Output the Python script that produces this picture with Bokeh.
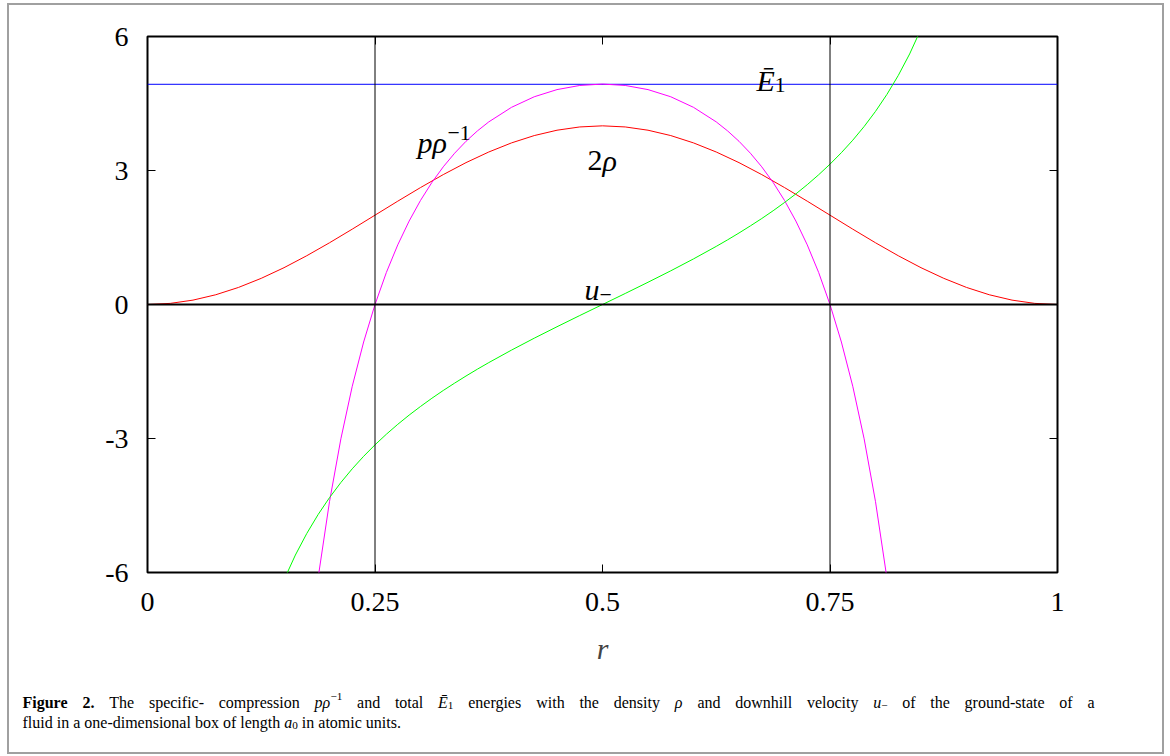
import re
from bokeh.plotting import figure
from bokeh.models import Span, Label, LinearAxis, FixedTicker, Range1d
from bokeh.layouts import column
from bokeh.embed import file_html
from bokeh.resources import INLINE

# ---------------- data ----------------
r_rho = [0.0, 0.025, 0.05, 0.075, 0.1, 0.125, 0.15, 0.175, 0.2, 0.225, 0.25,
         0.275, 0.3, 0.325, 0.35, 0.375, 0.4, 0.425, 0.45, 0.475, 0.5,
         0.525, 0.55, 0.575, 0.6, 0.625, 0.65, 0.675, 0.7, 0.725, 0.75,
         0.775, 0.8, 0.825, 0.85, 0.875, 0.9, 0.925, 0.95, 0.975, 1.0]
two_rho = [0.0, 0.025, 0.098, 0.218, 0.382, 0.586, 0.824, 1.092, 1.382, 1.687, 2.0,
           2.313, 2.618, 2.908, 3.176, 3.414, 3.618, 3.782, 3.902, 3.975, 4.0,
           3.975, 3.902, 3.782, 3.618, 3.414, 3.176, 2.908, 2.618, 2.313, 2.0,
           1.687, 1.382, 1.092, 0.824, 0.586, 0.382, 0.218, 0.098, 0.025, 0.0]

r_mid = [0.15, 0.1625, 0.175, 0.1875, 0.2, 0.2125, 0.225, 0.2375, 0.25, 0.2625,
         0.275, 0.2875, 0.3, 0.3125, 0.325, 0.3375, 0.35, 0.3625, 0.375,
         0.4, 0.425, 0.45, 0.475, 0.5, 0.525, 0.55, 0.575, 0.6,
         0.625, 0.6375, 0.65, 0.6625, 0.675, 0.6875, 0.7, 0.7125, 0.725,
         0.7375, 0.75, 0.7625, 0.775, 0.7875, 0.8, 0.8125, 0.825, 0.8375, 0.85]
u_minus = [-6.166, -5.609, -5.127, -4.702, -4.324, -3.985, -3.678, -3.399, -3.142, -2.904,
           -2.683, -2.476, -2.283, -2.099, -1.925, -1.760, -1.601, -1.448, -1.301,
           -1.021, -0.754, -0.498, -0.247, 0.0, 0.247, 0.498, 0.754, 1.021,
           1.301, 1.448, 1.601, 1.760, 1.925, 2.099, 2.283, 2.476, 2.683,
           2.904, 3.142, 3.399, 3.678, 3.985, 4.324, 4.702, 5.127, 5.609, 6.166]
p_over_rho = [-14.07, -10.80, -8.207, -6.119, -4.414, -3.007, -1.830, -0.840, 0.0, 0.718,
              1.335, 1.868, 2.330, 2.732, 3.082, 3.387, 3.654, 3.886, 4.088,
              4.414, 4.651, 4.811, 4.904, 4.935, 4.904, 4.811, 4.651, 4.414,
              4.088, 3.886, 3.654, 3.387, 3.082, 2.732, 2.330, 1.868, 1.335,
              0.718, 0.0, -0.840, -1.830, -3.007, -4.414, -6.119, -8.207, -10.80, -14.07]

r_E = [0.0, 1.0]
E_bar = [4.93, 4.93]

walls = [0.25, 0.75]
zero_level = [0.0]

x_ticks = [0, 0.25, 0.5, 0.75, 1]
x_tick_labels = ["0", "0.25", "0.5", "0.75", "1"]
y_ticks = [-6, -3, 0, 3, 6]
y_tick_labels = ["-6", "-3", "0", "3", "6"]

# ---------------- layout (page coordinates of the reference) ----------------
OX, OY = 9, 5                         # top-left of the bordered box on the page
W, H = 1153, 747
FRAME_L, FRAME_R, FRAME_T, FRAME_B = 147, 1057, 36, 572
SPLIT = 680                           # page y where the caption strip starts
FL = FRAME_L - OX
FT = FRAME_T - OY
FR = OX + W - FRAME_R
H1 = SPLIT - OY
H2 = H - H1
FB = H1 - FT - (FRAME_B - FRAME_T)
FW, FH = FRAME_R - FRAME_L, FRAME_B - FRAME_T
XMIN, XMAX, YMIN, YMAX = 0.0, 1.0, -6.0, 6.0

SERIF = "Liberation Serif"

p = figure(width=W, height=H1, x_range=(XMIN, XMAX), y_range=(YMIN, YMAX),
           output_backend="svg", toolbar_location=None,
           min_border_left=FL, min_border_right=FR,
           min_border_top=FT, min_border_bottom=FB,
           background_fill_color="white", border_fill_color="white")
p.frame_align = False
p.xgrid.visible = False
p.ygrid.visible = False
p.outline_line_color = "black"
p.outline_line_width = 2

def style_axis(ax, labels=True):
    ax.axis_line_color = None
    ax.major_tick_in = 8
    ax.major_tick_out = 0
    ax.major_tick_line_color = "black"
    ax.major_tick_line_width = 1
    ax.minor_tick_line_color = None
    ax.major_label_text_font = SERIF
    ax.major_label_text_font_size = "28px"
    ax.major_label_text_color = "black" if labels else None

xa = p.xaxis[0]
xa.ticker = FixedTicker(ticks=x_ticks)
xa.major_label_overrides = dict(zip(x_ticks, x_tick_labels))
style_axis(xa)
xa.major_label_standoff = 20
xa.axis_label = "r"
xa.axis_label_text_font = SERIF
xa.axis_label_text_font_style = "italic"
xa.axis_label_text_font_size = "30px"
xa.axis_label_standoff = 18

ya = p.yaxis[0]
ya.ticker = FixedTicker(ticks=y_ticks)
ya.major_label_overrides = dict(zip(y_ticks, y_tick_labels))
style_axis(ya)
ya.major_label_standoff = 19

top_ax = LinearAxis(ticker=FixedTicker(ticks=x_ticks))
style_axis(top_ax, labels=False)
top_ax.major_label_standoff = 0
p.add_layout(top_ax, "above")
right_ax = LinearAxis(ticker=FixedTicker(ticks=y_ticks))
style_axis(right_ax, labels=False)
right_ax.major_label_standoff = 0
p.add_layout(right_ax, "right")

for w in walls:
    p.add_layout(Span(location=w, dimension="height", line_color="black", line_width=1))
for z in zero_level:
    p.add_layout(Span(location=z, dimension="width", line_color="black", line_width=2))

p.line(r_E, E_bar, line_color="#0000ff", line_width=1)
p.line(r_rho, two_rho, line_color="#ff0000", line_width=1)
p.line(r_mid, p_over_rho, line_color="#ff00ff", line_width=1)
p.line(r_mid, u_minus, line_color="#00ff00", line_width=1)

# caption strip (frame covers the whole strip, y measured downward in px)
cap = figure(width=W, height=H2, x_range=Range1d(0, W), y_range=Range1d(H2, 0),
             output_backend="svg", toolbar_location=None,
             x_axis_type=None, y_axis_type=None,
             min_border_left=0, min_border_right=0, min_border_top=0, min_border_bottom=0,
             background_fill_color="white", border_fill_color="white")
cap.frame_align = False
cap.xgrid.visible = False
cap.ygrid.visible = False
cap.outline_line_color = None

# ---------------- text helpers ----------------
REG = {' ': 250, 'a': 444, 'b': 500, 'c': 444, 'd': 500, 'e': 444, 'f': 333, 'g': 500,
       'h': 500, 'i': 278, 'j': 278, 'k': 500, 'l': 278, 'm': 778, 'n': 500, 'o': 500,
       'p': 500, 'q': 500, 'r': 333, 's': 389, 't': 278, 'u': 500, 'v': 500, 'w': 722,
       'x': 500, 'y': 500, 'z': 444, '-': 333, '.': 250, ',': 250, 'T': 611, 'F': 556,
       '\u2212': 564}
BOLD = {'F': 611, 'i': 278, 'g': 500, 'u': 556, 'r': 444, 'e': 444, ' ': 250, '.': 250}
ITAL = {'p': 500, '\u03c1': 500, 'u': 500, 'a': 500, 'E': 611, '\u0112': 611}
TABLES = {"normal": REG, "bold": BOLD, "italic": ITAL}

def tw(text, style, size):
    tbl = TABLES[style]
    return sum(tbl.get(ch, REG.get(ch, 500)) for ch in text) * size / 1000.0

def plot_xy(X, Y):
    return (XMIN + (X - FRAME_L) / FW * (XMAX - XMIN),
            YMAX - (Y - FRAME_T) / FH * (YMAX - YMIN))

def cap_xy(X, Y):
    return (X - OX, Y - SPLIT)

def rich(fig, conv, pieces, X, Y, size, color="black", right=None):
    extra = 0.0
    if right is not None:
        natural = sum(tw(t, s, size * k) for t, s, k, _ in pieces)
        nsp = sum(t.count(' ') for t, _, _, _ in pieces)
        if nsp:
            extra = (right - X - natural) / nsp
    x = X
    for txt, style, k, dy in pieces:
        s = size * k
        for tok in re.split(r'( )', txt):
            if tok == ' ':
                x += tw(' ', style, s) + extra
            elif tok:
                dx, dyy = conv(x, Y - dy)
                fig.add_layout(Label(x=dx, y=dyy, text=tok, text_font=SERIF,
                                     text_font_size=f"{s:.1f}px", text_font_style=style,
                                     text_color=color, text_align="left",
                                     text_baseline="alphabetic"))
                x += tw(tok, style, s)

# curve labels
rich(p, plot_xy, [("p", "italic", 1, 0), ("\u03c1", "italic", 1, 0),
                  ("\u22121", "normal", 0.72, 10)], 417, 142, 30)
rich(p, plot_xy, [("2", "normal", 1, 0), ("\u03c1", "italic", 1, 0)], 587, 160, 30)
rich(p, plot_xy, [("\u0112", "italic", 1, 0), ("1", "normal", 0.72, -4)], 756, 80, 30)
rich(p, plot_xy, [("u", "italic", 1, 0), ("\u2212", "normal", 0.72, -5)], 584, 289, 30)

# caption (first line justified, as in the journal layout)
CAP = 16
rich(cap, cap_xy,
     [("Figure 2.", "bold", 1, 0),
      (" The specific- compression ", "normal", 1, 0),
      ("p\u03c1", "italic", 1, 0), ("\u22121", "normal", 0.7, 6),
      (" and total ", "normal", 1, 0),
      ("\u0112", "italic", 1, 0), ("1", "normal", 0.7, -3),
      (" energies with the density ", "normal", 1, 0),
      ("\u03c1", "italic", 1, 0),
      (" and downhill velocity ", "normal", 1, 0),
      ("u", "italic", 1, 0), ("\u2212", "normal", 0.7, -3),
      (" of the ground-state of a", "normal", 1, 0)],
     22, 702, CAP, right=1094)
rich(cap, cap_xy,
     [("fluid in a one-dimensional box of length ", "normal", 1, 0),
      ("a", "italic", 1, 0), ("0", "normal", 0.7, -3),
      (" in atomic units.", "normal", 1, 0)],
     22, 722, CAP)

layout = column(p, cap, spacing=0)
layout.margin = (OY, 0, 0, OX)
layout.styles = {"outline": "2px solid #a0a0a0"}

open("out.html", "w").write(file_html(layout, INLINE))
